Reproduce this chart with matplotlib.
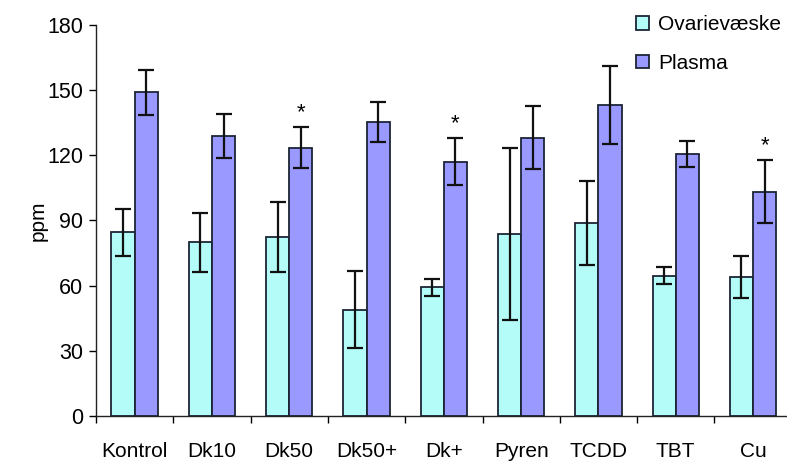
import matplotlib
matplotlib.use("Agg")
import matplotlib.pyplot as plt
from matplotlib.patches import Patch
import numpy as np

plt.rcParams['font.family'] = ['Liberation Sans', 'DejaVu Sans']

categories = ['Kontrol', 'Dk10', 'Dk50', 'Dk50+', 'Dk+', 'Pyren', 'TCDD', 'TBT', 'Cu']
ovarie = [84.5, 80, 82.5, 49, 59.2, 84, 88.8, 64.6, 64]
ovarie_err = [11, 13.5, 16, 17.8, 4, 39.6, 19.4, 4, 9.6]
plasma = [149, 129, 123.5, 135.5, 117, 128, 143, 120.6, 103.3]
plasma_err = [10.5, 10, 9.5, 9.2, 10.8, 14.5, 18, 6, 14.6]
significant = [False, False, True, False, True, False, False, False, True]

cyan = '#b4fcf8'
purple = '#9999ff'
edge = '#1c2436'

fig = plt.figure(figsize=(7.87, 4.61), dpi=100)
ax = fig.add_axes([96/787, 45/461, 695.7/787, 391/461])

x = np.arange(len(categories))
w = 0.3
err_kw = dict(ecolor='#111111', elinewidth=1.6, capsize=6, capthick=1.6)
ax.bar(x - w/2, ovarie, w, yerr=ovarie_err, color=cyan, edgecolor=edge,
       linewidth=1.3, error_kw=err_kw, label='Ovarievæske')
ax.bar(x + w/2, plasma, w, yerr=plasma_err, color=purple, edgecolor=edge,
       linewidth=1.3, error_kw=err_kw, label='Plasma')

for i, sig in enumerate(significant):
    if sig:
        ax.annotate('*', xy=(x[i] + w/2, plasma[i] + plasma_err[i]),
                    xytext=(0, 3), textcoords='offset points',
                    ha='center', va='bottom', fontsize=16)

ax.set_xlim(-0.5, len(categories) - 0.5)
ax.set_ylim(0, 180)
ax.set_yticks(np.arange(0, 181, 30))
ax.set_ylabel('ppm', fontsize=15, labelpad=0)

# boundary ticks as marks, labels at the category centres
ax.set_xticks(np.arange(-0.5, len(categories), 1.0))
ax.set_xticklabels([])
ax.set_xticks(x, minor=True)
ax.set_xticklabels(categories, minor=True, fontsize=15)
ax.tick_params(axis='x', which='minor', length=0, pad=19)
ax.tick_params(axis='x', which='major', length=5, width=1, direction='out')
ax.tick_params(axis='y', length=5, width=1, labelsize=15.5, pad=4)

for side in ['top', 'right']:
    ax.spines[side].set_visible(False)
for side in ['left', 'bottom']:
    ax.spines[side].set_linewidth(1)
    ax.spines[side].set_color('#222222')

handles = [Patch(facecolor=cyan, edgecolor=edge, linewidth=1.3),
           Patch(facecolor=purple, edgecolor=edge, linewidth=1.3)]
fig.legend(handles, ['Ovarievæske', 'Plasma'], loc='upper left',
           bbox_to_anchor=(628/787, 1 - 7/461), frameon=False, fontsize=15,
           handlelength=0.6, handleheight=0.6, handletextpad=0.45,
           labelspacing=0.95, borderaxespad=0)

fig.savefig('out.png', dpi=100)
